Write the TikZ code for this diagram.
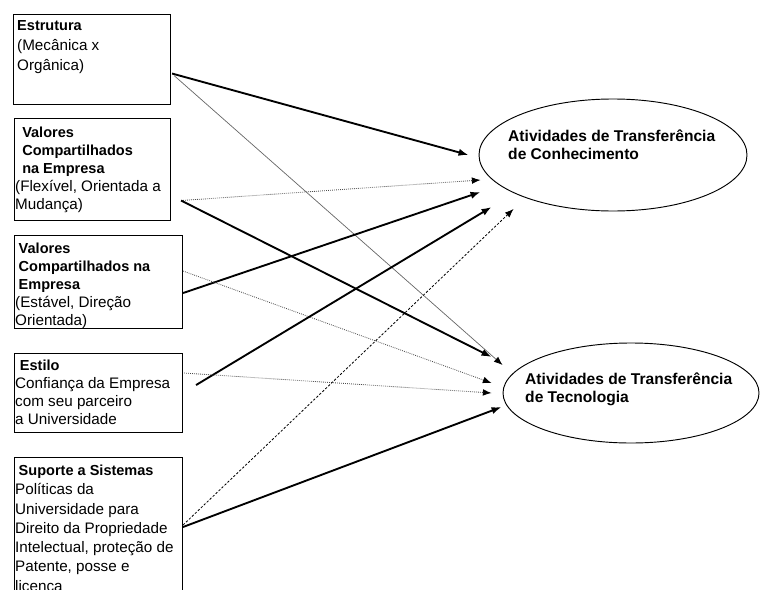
\documentclass[tikz,border=0pt]{standalone}
\usepackage{fontspec}
\setmainfont{Liberation Sans}
\usetikzlibrary{arrows.meta,calc,shapes.geometric}
\newcommand{\tit}[2][0pt]{\hspace*{#1}{\fontsize{12.4}{15}\selectfont\bfseries #2}}
\tikzset{
	fator/.style={draw, line width=0.9pt, anchor=north west, inner sep=0pt},
	rotulo/.style={anchor=north west, inner sep=0pt, align=left, font=\fontsize{13}{15.3}\selectfont},
	ativ/.style={draw, ellipse, line width=0.8pt, inner sep=0pt},
	ativtxt/.style={anchor=north west, inner sep=0pt, align=left, font=\fontsize{13.3}{15.4}\selectfont\bfseries},
	forte/.style={line width=1.6pt, -{Latex[length=3mm,width=2.2mm]}},
	fraca/.style={black!60, line width=0.6pt, -{Latex[length=2.6mm,width=2mm,color=black]}},
	pontos/.style={fraca, black!70, line width=0.7pt, densely dotted},
	tracos/.style={black, line width=0.7pt, dash pattern=on 2pt off 1.5pt, -{Latex[length=2.6mm,width=2mm]}}
}

\begin{document}
\begin{tikzpicture}[x=0.03cm, y=-0.03cm]
			%%%%% START %%%%%
			\useasboundingbox (0, 0) rectangle (760, 589);
			
			\node[fator, minimum width=4.71cm, minimum height=2.7cm] (b1) at (13, 14) {};
			\node[rotulo, font=\fontsize{13}{17}\selectfont] (t1) at (17, 20) {\tit{Estrutura}\\(Mecânica x\\Orgânica)};
			
			\node[fator, minimum width=4.68cm, minimum height=3.06cm] (b2) at (14, 118) {};
			\node[rotulo] (t2) at (15, 127) {\tit[6pt]{Valores}\\\tit[6pt]{Compartilhados}\\\tit[6pt]{na Empresa}\\(Flexível, Orientada a\\Mudança)};
			
			\node[fator, minimum width=5.04cm, minimum height=2.79cm] (b3) at (14, 235) {};
			\node[rotulo] (t3) at (15, 243) {\tit[3pt]{Valores}\\\tit[3pt]{Compartilhados na}\\\tit[3pt]{Empresa}\\(Estável, Direção\\Orientada)};
			
			\node[fator, minimum width=5.04cm, minimum height=2.37cm] (b4) at (14, 353) {};
			\node[rotulo] (t4) at (15, 360) {\tit[4pt]{Estilo}\\Confiança da Empresa\\com seu parceiro\\a Universidade};
			
			\node[fator, minimum width=5.04cm, minimum height=4.5cm] (b5) at (14, 457) {};
			\node[rotulo, font=\fontsize{13}{16.4}\selectfont] (t5) at (15, 465) {\tit[3pt]{Suporte a Sistemas}\\Políticas da\\Universidade para\\Direito da Propriedade\\Intelectual, proteção de\\Patente, posse e\\licença};
			
			\node[ativ, minimum width=8.04cm, minimum height=3.36cm] (e1) at (613, 155) {};
			\node[ativtxt] (k1) at (508, 130) {Atividades de Transferência\\de Conhecimento};
			
			\node[ativ, minimum width=7.68cm, minimum height=3.0cm] (e2) at (631, 393) {};
			\node[ativtxt] (k2) at (525, 373) {Atividades de Transferência\\de Tecnologia};
			
			\draw[forte] ($(b1.east)+(1, 14)$) -- ($(e1.west)+(-10, 0)$);
			\draw[fraca] ($(b1.east)+(3, 16)$) -- ($(e2.west)+(0, -28)$);
			
			\draw[pontos] ($(b2.east)+(10, 31)$) -- ($(e1.west)+(2, 25)$);
			\draw[forte] ($(b2.east)+(10, 31)$) -- ($(e2.west)+(-11, -36)$);
			
			\draw[forte] ($(b3.east)+(0, 11)$) -- ($(e1.west)+(2, 37)$);
			\draw[pontos] ($(b3.east)+(0, -11)$) -- ($(e2.west)+(-11, -10)$);
			
			\draw[forte] ($(b4.east)+(13, -8)$) -- ($(e1.west)+(13, 52)$);
			\draw[pontos] ($(b4.east)+(1, -20)$) -- ($(e2.west)+(-11, 0)$);
			
			\draw[tracos] ($(b5.north east)+(0, 68)$) -- ($(e1.west)+(35, 54)$);
			\draw[forte] ($(b5.north east)+(0, 70)$) -- ($(e2.west)+(-1, 14)$);
			%%%%% END %%%%%
\end{tikzpicture}
\end{document}
